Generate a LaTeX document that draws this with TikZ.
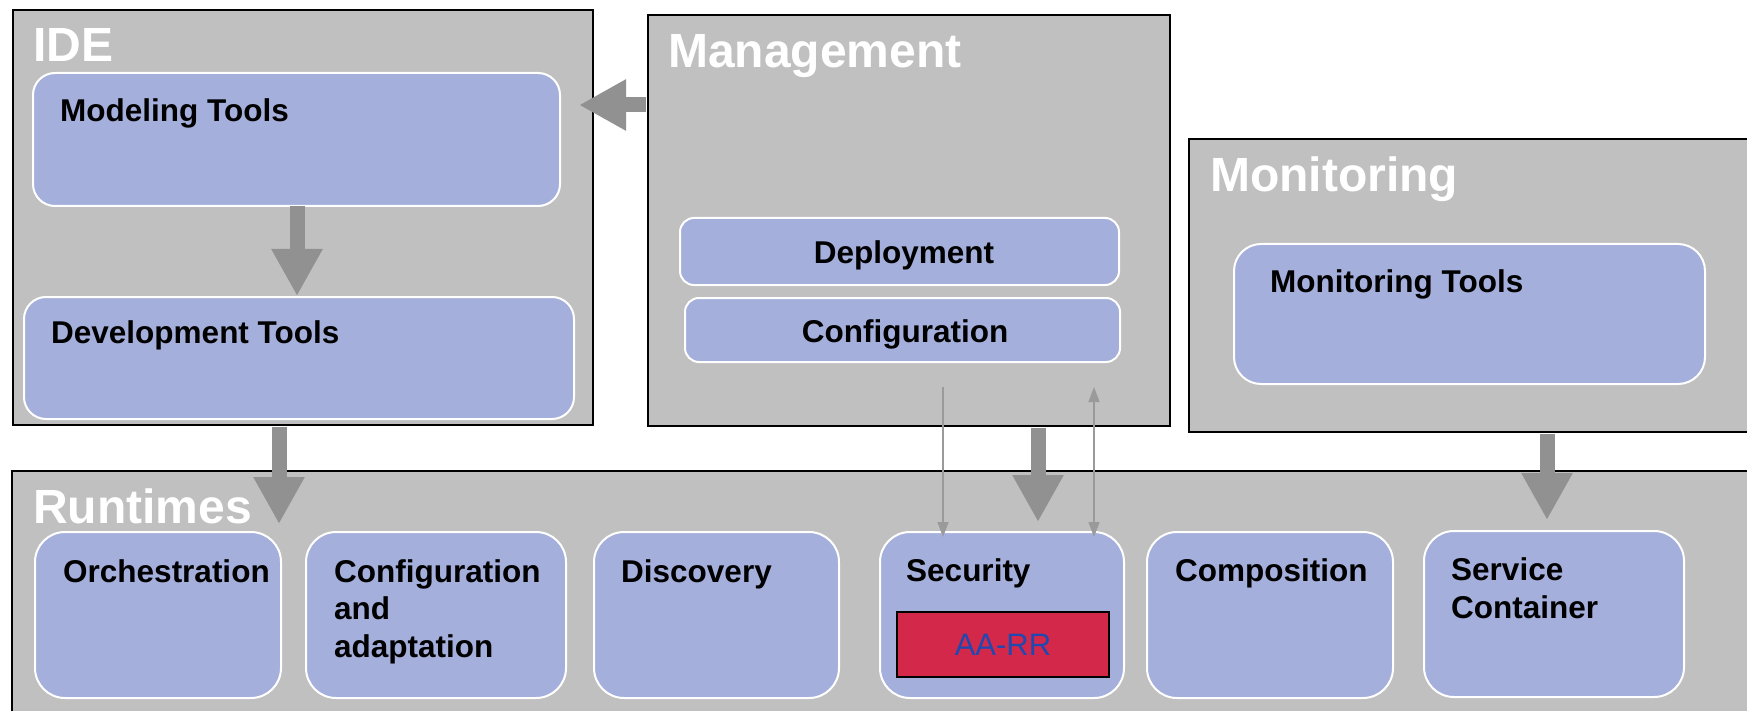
\documentclass[tikz,border=0pt]{standalone}
\usepackage{fontspec}
\setmainfont{Liberation Sans}
\usetikzlibrary{arrows.meta}
\definecolor{panelgray}{HTML}{C0C0C0}
\definecolor{boxblue}{HTML}{A4AFDC}
\definecolor{arrowgray}{HTML}{919191}
\definecolor{thingray}{HTML}{9A9A9A}
\definecolor{aared}{HTML}{D4284A}
\definecolor{aablue}{HTML}{1F48B0}
\begin{document}
\begin{tikzpicture}[x=1pt,y=-1pt,
  panel/.style={draw=black, line width=2.5pt, fill=panelgray, rectangle, inner sep=0pt, outer sep=0pt, anchor=north west},
  bluebox/.style={draw=white, line width=2pt, fill=boxblue, rectangle, inner sep=0pt, outer sep=0pt, anchor=north west, rounded corners=#1},
  bluebox/.default=22pt,
  redbox/.style={draw=black, line width=2.5pt, fill=aared, rectangle, inner sep=0pt, outer sep=0pt, anchor=north west},
  title/.style={anchor=base west, inner sep=0pt, text=white, font=\fontsize{48}{50}\selectfont\bfseries},
  lbl/.style={anchor=base west, inner sep=0pt, text=black, font=\fontsize{31.5}{37.5}\selectfont\bfseries},
  fat/.style={draw=arrowgray, line width=15pt, -{Triangle[width=48pt,length=47pt]}},
  thin/.style={draw=thingray, line width=1.5pt, -{Triangle[width=11pt,length=15pt]}},
  thinboth/.style={draw=thingray, line width=1.5pt, {Triangle[width=11pt,length=15pt]}-{Triangle[width=11pt,length=15pt]}}
]
\useasboundingbox (0,0) rectangle (1747,711);
\clip (0,0) rectangle (1747,711);

% panels
\node[panel, minimum width=580pt, minimum height=415pt] (ide) at (13,10) {};
\node[panel, minimum width=522pt, minimum height=411pt] (mgmt) at (648,15) {};
\node[panel, minimum width=620pt, minimum height=293pt] (mon) at (1189,139) {};
\node[panel, minimum width=1800pt, minimum height=300pt] (rt) at (12,471) {};

% panel titles
\node[title] (tide) at (33,62) {IDE};
\node[title] (tmgmt) at (668,68) {Management};
\node[title] (tmon) at (1210,192) {Monitoring};
\node[title] (trt) at (33,523) {Runtimes};

% IDE boxes
\node[bluebox, minimum width=527pt, minimum height=133pt] (mt) at (33,73) {};
\node[bluebox, minimum width=550pt, minimum height=122pt] (dt) at (24,297) {};
\node[lbl] (lmt) at (60,122) {Modeling Tools};
\node[lbl] (ldt) at (51,343) {Development Tools};

% Management boxes
\node[bluebox=14pt, minimum width=439pt, minimum height=67pt] (dep) at (680,218) {};
\node[bluebox=14pt, minimum width=435pt, minimum height=64pt] (conf) at (685,298) {};
\node[lbl, anchor=base] (ldep) at (904,263) {Deployment};
\node[lbl, anchor=base] (lconf) at (905,342) {Configuration};

% Monitoring box
\node[bluebox=27pt, minimum width=471pt, minimum height=140pt] (mtools) at (1234,244) {};
\node[lbl] (lmtools) at (1270,292) {Monitoring Tools};

% Runtime boxes
\node[bluebox=30pt, minimum width=246pt, minimum height=166pt] (orch) at (35,532) {};
\node[bluebox=30pt, minimum width=260pt, minimum height=166pt] (cfa) at (306,532) {};
\node[bluebox=30pt, minimum width=245pt, minimum height=166pt] (disc) at (594,532) {};
\node[bluebox=30pt, minimum width=244pt, minimum height=166pt] (sec) at (880,532) {};
\node[bluebox=30pt, minimum width=246pt, minimum height=166pt] (comp) at (1147,532) {};
\node[bluebox=30pt, minimum width=260pt, minimum height=166pt] (svc) at (1424,531) {};
\node[redbox, minimum width=212pt, minimum height=65pt] (aarr) at (897,612) {};

\node[lbl] (lorch) at (63,582) {Orchestration};
\node[lbl, align=left] (lcfa) at (334,657) {Configuration\\and\\adaptation};
\node[lbl] (ldisc) at (621,582) {Discovery};
\node[lbl] (lsec) at (906,581) {Security};
\node[lbl] (lcomp) at (1175,581) {Composition};
\node[lbl, align=left] (lsvc) at (1451,618) {Service\\Container};
\node[inner sep=0pt, text=aablue, font=\fontsize{31}{34}\selectfont] (laarr) at (aarr.center) {AA-RR};

% arrow end points
\coordinate (a1s) at (297,206);
\coordinate (a1e) at (297,296);
\coordinate (a2s) at (646,105);
\coordinate (a2e) at (579,105);
\coordinate (a3s) at (279,427);
\coordinate (a3e) at (279,524);
\coordinate (a4s) at (1038,428);
\coordinate (a4e) at (1038,522);
\coordinate (a5s) at (1547,434);
\coordinate (a5e) at (1547,520);
\coordinate (t1s) at (943,387);
\coordinate (t1e) at (943,537);
\coordinate (t2s) at (1094,387);
\coordinate (t2e) at (1094,537);

% fat arrows
\draw[fat] (a1s) -- (a1e);
\draw[fat] (a2s) -- (a2e);
\draw[fat] (a3s) -- (a3e);
\draw[fat] (a4s) -- (a4e);
\draw[fat] (a5s) -- (a5e);

% thin arrows
\draw[thin] (t1s) -- (t1e);
\draw[thinboth] (t2s) -- (t2e);
\end{tikzpicture}
\end{document}
